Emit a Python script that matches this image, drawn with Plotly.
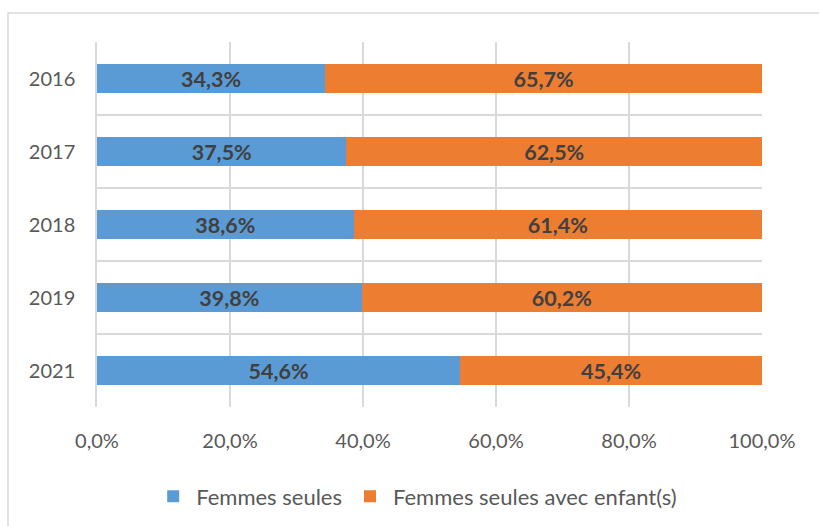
import plotly.graph_objects as go

years = ["2016", "2017", "2018", "2019", "2021"]
seules = [34.3, 37.5, 38.6, 39.8, 54.6]
avec_enfants = [65.7, 62.5, 61.4, 60.2, 45.4]
series_names = ["Femmes seules", "Femmes seules avec enfant(s)"]
x_ticks = [0, 20, 40, 60, 80, 100]
x_tick_labels = ["0,0%", "20,0%", "40,0%", "60,0%", "80,0%", "100,0%"]

FONT = "Lato"
fig = go.Figure()
fig.add_trace(go.Bar(
    y=years, x=seules, orientation="h", name=series_names[0],
    marker=dict(color="#5B9BD5", line=dict(width=0)),
    texttemplate="%{x:.1f}%", textposition="inside", insidetextanchor="middle",
    constraintext="none",
    textfont=dict(family=FONT, size=21.5, color="#404040", weight="bold"),
))
fig.add_trace(go.Bar(
    y=years, x=avec_enfants, orientation="h", name=series_names[1],
    marker=dict(color="#ED7D31", line=dict(width=0)),
    texttemplate="%{x:.1f}%", textposition="inside", insidetextanchor="middle",
    constraintext="none",
    textfont=dict(family=FONT, size=21.5, color="#404040", weight="bold"),
))

fig.update_layout(
    barmode="stack",
    bargap=0.6,
    separators=", ",
    width=819, height=526,
    margin=dict(l=97, r=57, t=42, b=119, autoexpand=False),
    paper_bgcolor="white", plot_bgcolor="white",
    font=dict(family=FONT, size=20, color="#595959"),
    showlegend=True,
    legend=dict(orientation="h", x=0.48, xanchor="center", y=-0.245, yanchor="middle",
                font=dict(family=FONT, size=22, color="#595959"),
                traceorder="normal", itemwidth=36),
)
fig.update_xaxes(
    range=[0, 100], tickvals=x_ticks, ticktext=x_tick_labels,
    showgrid=True, gridcolor="#D9D9D9", gridwidth=1.5, zeroline=False,
    showline=False, ticks="", ticklabelstandoff=20, automargin=False,
    tickfont=dict(family=FONT, size=20, color="#595959"),
)
fig.update_yaxes(
    type="category", autorange="reversed", tickson="boundaries",
    showgrid=True, gridcolor="#D9D9D9", gridwidth=1.5,
    showline=True, linecolor="#D9D9D9", linewidth=1.5, ticks="",
    ticklabelstandoff=16, automargin=False,
    tickfont=dict(family=FONT, size=20, color="#595959"),
)
# outer chart border (left and top edges visible)
fig.add_shape(type="rect", xref="paper", yref="paper",
              x0=-0.1338, x1=1.2, y0=-0.6, y1=1.0795,
              line=dict(color="#D9D9D9", width=1.5), fillcolor="rgba(0,0,0,0)", layer="below")

fig.write_html("out.html", config={"displayModeBar": False},
               post_script="document.body.style.margin='0';")
